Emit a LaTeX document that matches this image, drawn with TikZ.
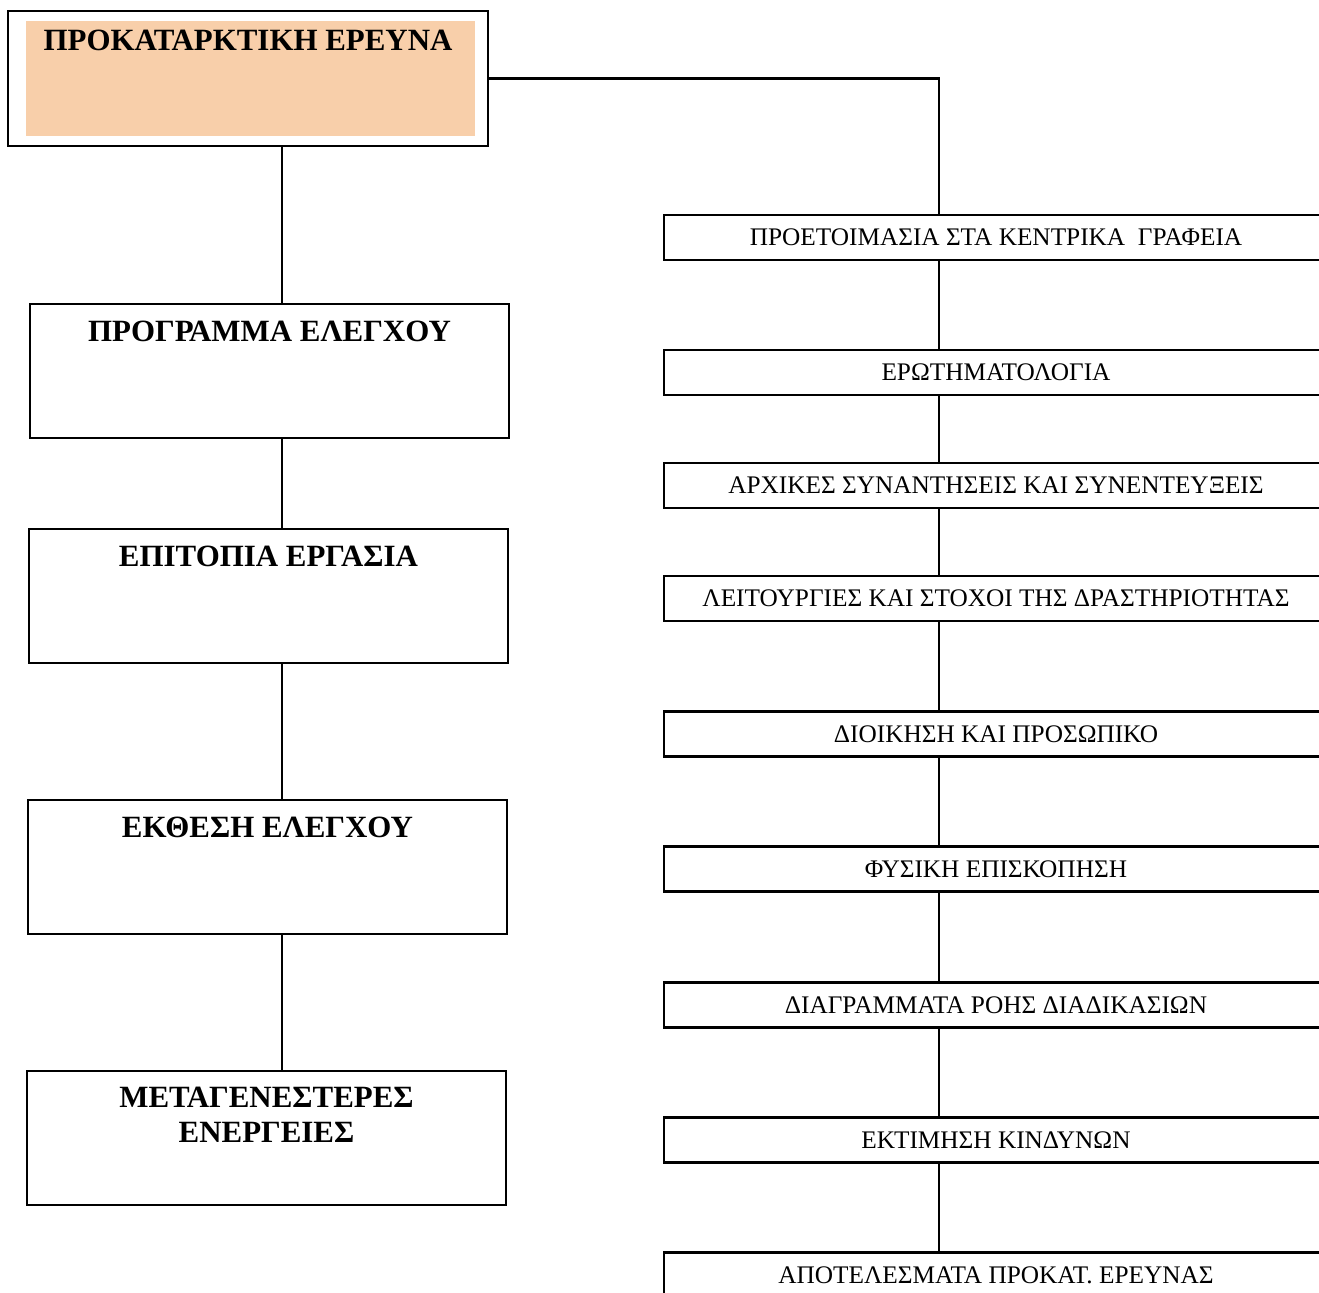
\documentclass[tikz,border=0pt]{standalone}
\usepackage{fontspec}
\setmainfont{Liberation Serif}
\usepackage{xcolor}
\usepackage{tikz}
\usetikzlibrary{positioning}
\definecolor{peach}{RGB}{248,207,170}
\tikzstyle{phase} = [rectangle, draw, line width=1.2pt,
    minimum width=9.58cm, minimum height=2.68cm, inner sep=0pt]
\tikzstyle{task} = [rectangle, draw, line width=1.2pt,
    minimum width=13.28cm, minimum height=0.9cm, inner sep=0pt,
    font=\fontsize{14.4}{17}\selectfont]
\tikzstyle{ptitle} = [anchor=center, align=center,
    font=\bfseries\fontsize{17.6}{20}\selectfont]
\tikzstyle{line} = [draw, line width=1.2pt]

\begin{document}
\begin{tikzpicture}[x=0.02cm,y=-0.02cm]
    \useasboundingbox (0,0) rectangle (1319,1293);
    \clip (0,0) rectangle (1319,1293);
    % Place nodes
    \node[phase, minimum width=9.6cm, minimum height=2.7cm] (start) at (248,78.5) {};
    \fill[peach] ([shift={(19,11)}]start.north west) rectangle ([shift={(-14,-11)}]start.south east);
    \node[ptitle] (start-t) at ([yshift=-0.6cm]start.north) {ΠΡΟΚΑΤΑΡΚΤΙΚΗ ΕΡΕΥΝΑ};
    \node[phase] (prog) at (269.5,371) {};
    \node[ptitle] (prog-t) at ([yshift=-0.56cm]prog.north) {ΠΡΟΓΡΑΜΜΑ ΕΛΕΓΧΟΥ};
    \node[phase] (field) at (268.5,596) {};
    \node[ptitle] (field-t) at ([yshift=-0.56cm]field.north) {ΕΠΙΤΟΠΙΑ ΕΡΓΑΣΙΑ};
    \node[phase] (report) at (267.5,867) {};
    \node[ptitle] (report-t) at ([yshift=-0.56cm]report.north) {ΕΚΘΕΣΗ ΕΛΕΓΧΟΥ};
    \node[phase] (after) at (266.5,1138) {};
    \node[ptitle] (after-t) at ([yshift=-0.89cm]after.north) {ΜΕΤΑΓΕΝΕΣΤΕΡΕΣ\\ΕΝΕΡΓΕΙΕΣ};
    \node[task] (prep) at (996,237.5) {ΠΡΟΕΤΟΙΜΑΣΙΑ ΣΤΑ ΚΕΝΤΡΙΚΑ\ \ ΓΡΑΦΕΙΑ};
    \node[task] (quest) at (996,372.5) {ΕΡΩΤΗΜΑΤΟΛΟΓΙΑ};
    \node[task] (meet) at (996,485.5) {ΑΡΧΙΚΕΣ ΣΥΝΑΝΤΗΣΕΙΣ ΚΑΙ ΣΥΝΕΝΤΕΥΞΕΙΣ};
    \node[task] (goals) at (996,598.5) {ΛΕΙΤΟΥΡΓΙΕΣ ΚΑΙ ΣΤΟΧΟΙ ΤΗΣ ΔΡΑΣΤΗΡΙΟΤΗΤΑΣ};
    \node[task] (staff) at (996,734) {ΔΙΟΙΚΗΣΗ ΚΑΙ ΠΡΟΣΩΠΙΚΟ};
    \node[task] (survey) at (996,869) {ΦΥΣΙΚΗ ΕΠΙΣΚΟΠΗΣΗ};
    \node[task] (flow) at (996,1005) {ΔΙΑΓΡΑΜΜΑΤΑ ΡΟΗΣ ΔΙΑΔΙΚΑΣΙΩΝ};
    \node[task] (risk) at (996,1140) {ΕΚΤΙΜΗΣΗ ΚΙΝΔΥΝΩΝ};
    \node[task] (result) at (996,1275) {ΑΠΟΤΕΛΕΣΜΑΤΑ ΠΡΟΚΑΤ. ΕΡΕΥΝΑΣ};
    \coordinate (lspine) at (282,0);
    \coordinate (rspine) at (939,0);
    % Draw edges
    \path [line] (lspine |- start.south) -- (lspine |- prog.north);
    \path [line] (lspine |- prog.south) -- (lspine |- field.north);
    \path [line] (lspine |- field.south) -- (lspine |- report.north);
    \path [line] (lspine |- report.south) -- (lspine |- after.north);
    \path [line] (start.east) -| (rspine |- prep.north);
    \path [line] (rspine |- prep.south) -- (rspine |- quest.north);
    \path [line] (rspine |- quest.south) -- (rspine |- meet.north);
    \path [line] (rspine |- meet.south) -- (rspine |- goals.north);
    \path [line] (rspine |- goals.south) -- (rspine |- staff.north);
    \path [line] (rspine |- staff.south) -- (rspine |- survey.north);
    \path [line] (rspine |- survey.south) -- (rspine |- flow.north);
    \path [line] (rspine |- flow.south) -- (rspine |- risk.north);
    \path [line] (rspine |- risk.south) -- (rspine |- result.north);
\end{tikzpicture}
\end{document}
